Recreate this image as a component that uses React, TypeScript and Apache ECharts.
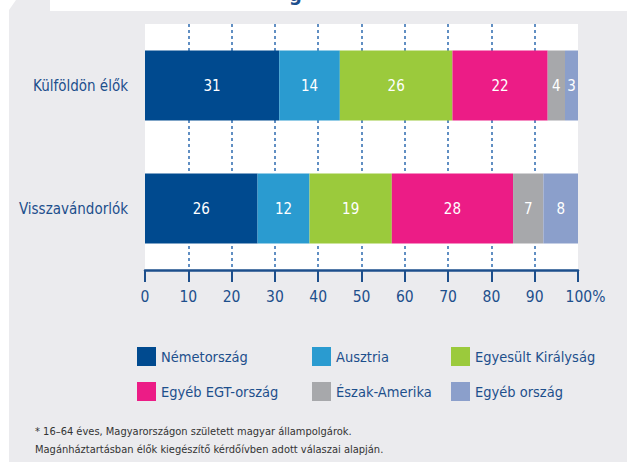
import React, { useEffect, useRef } from "react";
import * as echarts from "echarts";

const categories = ["Külföldön élők", "Visszavándorlók"];
const seriesNames = [
  "Németország",
  "Ausztria",
  "Egyesült Királyság",
  "Egyéb EGT-ország",
  "Észak-Amerika",
  "Egyéb ország",
];
const nemetorszag = [31, 26];
const ausztria = [14, 12];
const egyesultKiralysag = [26, 19];
const egyebEGT = [22, 28];
const eszakAmerika = [4, 7];
const egyebOrszag = [3, 8];
const seriesValues = [nemetorszag, ausztria, egyesultKiralysag, egyebEGT, eszakAmerika, egyebOrszag];
const colors = ["#004a8f", "#2a9bd0", "#9bca3c", "#ec1c86", "#a7a8ab", "#8b9fcb"];
const footnotes = [
  "* 16–64 éves, Magyarországon született magyar állampolgárok.",
  "Magánháztartásban élők kiegészítő kérdőívben adott válaszai alapján.",
];

const FAMILY = "'DejaVu Sans Condensed', sans-serif";
const NAVY = "#1d4f8c";

const legendPos = [
  [137, 347],
  [312, 347],
  [451, 347],
  [137, 382],
  [312, 382],
  [451, 382],
];

export default function App() {
  const ref = useRef<HTMLDivElement>(null);
  useEffect(() => {
    if (!ref.current) return;
    const chart = echarts.init(ref.current, null, { renderer: "svg" });
    const ts = (size: number, color: string) => ({
      color,
      fontSize: size,
      fontFamily: FAMILY,
    });
    chart.setOption({
      animation: false,
      backgroundColor: "#ffffff",
      textStyle: { fontFamily: FAMILY },
      graphic: [
        {
          type: "polygon",
          z: -10,
          silent: true,
          shape: {
            points: [
              [9, 10],
              [16, 0],
              [50, 0],
              [50, 11],
              [627, 11],
              [627, 462],
              [9, 462],
            ],
          },
          style: { fill: "#ebebee" },
        },
        {
          type: "text",
          x: 289,
          y: 4,
          silent: true,
          style: {
            text: "g",
            fill: "#1d4f8c",
            font: "bold 20px " + FAMILY,
            verticalAlign: "bottom",
          },
        },
        ...footnotes.map((t, i) => ({
          type: "text",
          x: 35,
          y: 431 + i * 18,
          silent: true,
          style: {
            text: t,
            fill: "#333333",
            fontSize: 11,
            fontFamily: FAMILY,
            verticalAlign: "middle",
          },
        })),
      ],
      grid: {
        left: 145,
        top: 24,
        width: 433,
        height: 246,
        show: true,
        backgroundColor: "#ffffff",
        borderWidth: 0,
        outerBoundsMode: "none",
      },
      legend: seriesNames.map((n, i) => ({
        data: [n],
        left: legendPos[i][0],
        top: legendPos[i][1],
        padding: 0,
        itemWidth: 19,
        itemHeight: 19,
        icon: "rect",
        selectedMode: false,
        textStyle: ts(14.5, NAVY),
      })),
      xAxis: {
        type: "value",
        min: 0,
        max: 100,
        interval: 10,
        axisLine: { show: true, lineStyle: { color: NAVY, width: 2.5 } },
        axisTick: { show: true, length: 12, lineStyle: { color: NAVY, width: 2 } },
        splitLine: {
          show: true,
          showMinLine: false,
          showMaxLine: false,
          lineStyle: { color: "#2e6bb0", width: 1.5, type: [3, 3] },
        },
        axisLabel: {
          ...ts(15.5, NAVY),
          margin: 19,
          formatter: (v: number) => (v === 100 ? "{p|100%}" : String(v)),
          rich: {
            p: { ...ts(15.5, NAVY), padding: [0, 0, 0, 15] },
          },
        },
      },
      yAxis: {
        type: "category",
        data: categories,
        inverse: true,
        axisLine: { show: false },
        axisTick: { show: false },
        axisLabel: { ...ts(15, NAVY), margin: 17 },
      },
      series: seriesNames.map((n, i) => ({
        name: n,
        type: "bar",
        stack: "total",
        barWidth: 70,
        data: seriesValues[i],
        itemStyle: { color: colors[i] },
        label: {
          show: true,
          position: "inside",
          ...ts(15, "#ffffff"),
        },
      })),
    });
    return () => chart.dispose();
  }, []);
  return (
    <div
      ref={ref}
      style={{ position: "fixed", left: 0, top: 0, width: 627, height: 462 }}
    />
  );
}
